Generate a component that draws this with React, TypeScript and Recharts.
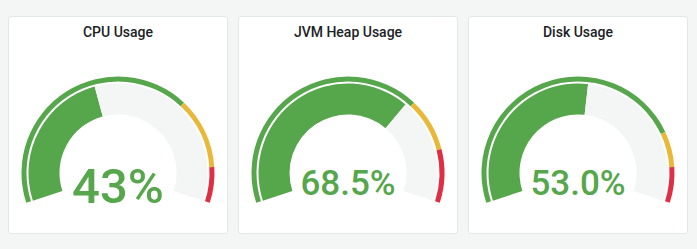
import { PieChart, Pie, Cell } from "recharts";

const titles = ["CPU Usage", "JVM Heap Usage", "Disk Usage"];
const values = [43, 68.5, 53.0];
const decimals = [0, 1, 1];
// threshold steps in percent: green until first, yellow until second, red after
const yellowFrom = [70, 70, 80];
const redFrom = [90, 85, 90];
const maxValue = 100;

const GREEN = "#56A64B";
const YELLOW = "#EAB839";
const RED = "#E02F44";
const EMPTY = "#F4F5F5";

const START = 198;
const END = -18;
const CY = 156;

function Gauge({ idx, left }: { idx: number; left: number }) {
  const v = values[idx];
  const valueData = [
    { name: "value", v: v },
    { name: "rest", v: maxValue - v },
  ];
  const threshData = [
    { name: "ok", v: yellowFrom[idx], c: GREEN },
    { name: "warn", v: redFrom[idx] - yellowFrom[idx], c: YELLOW },
    { name: "crit", v: maxValue - redFrom[idx], c: RED },
  ];
  const text = v.toFixed(decimals[idx]) + "%";
  const fontSize = text.length <= 3 ? 49 : 35;
  const baseline = text.length <= 3 ? 186 : 178;

  return (
    <div
      style={{
        position: "absolute",
        left: left,
        top: 16,
        width: 220,
        height: 218,
        boxSizing: "border-box",
        border: "1px solid #E4E7E7",
        borderRadius: 3,
        background: "#fff",
      }}
    >
      <div
        style={{
          position: "absolute",
          top: 5,
          left: 0,
          right: 0,
          textAlign: "center",
          fontFamily: "Roboto, sans-serif",
          fontWeight: 500,
          fontSize: 14,
          lineHeight: "20px",
          color: "#202226",
        }}
      >
        {titles[idx]}
      </div>
      <div style={{ position: "absolute", top: 0, left: 0 }}>
        <PieChart
          width={218}
          height={216}
          margin={{ top: 0, right: 0, bottom: 0, left: 0 }}
        >
          <Pie
            data={threshData}
            dataKey="v"
            cx={109}
            cy={CY}
            startAngle={START}
            endAngle={END}
            innerRadius={91.5}
            outerRadius={96.5}
            stroke="none"
            isAnimationActive={false}
          >
            {threshData.map((d, i) => (
              <Cell key={i} fill={d.c} />
            ))}
          </Pie>
          <Pie
            data={valueData}
            dataKey="v"
            cx={109}
            cy={CY}
            startAngle={START}
            endAngle={END}
            innerRadius={58.5}
            outerRadius={89.5}
            stroke="none"
            isAnimationActive={false}
          >
            <Cell fill={GREEN} />
            <Cell fill={EMPTY} />
          </Pie>
        </PieChart>
      </div>
      <div
        style={{
          position: "absolute",
          left: 0,
          right: 0,
          top: baseline - 0.8415 * fontSize,
          textAlign: "center",
          fontFamily: "Roboto, sans-serif",
          fontWeight: 500,
          fontSize: fontSize,
          lineHeight: 1,
          color: GREEN,
        }}
      >
        {text}
      </div>
    </div>
  );
}

export default function App() {
  return (
    <div
      style={{
        position: "fixed",
        left: 0,
        top: 0,
        width: 697,
        height: 249,
        background: "#F4F5F5",
      }}
    >
      <Gauge idx={0} left={8} />
      <Gauge idx={1} left={238} />
      <Gauge idx={2} left={468} />
    </div>
  );
}
